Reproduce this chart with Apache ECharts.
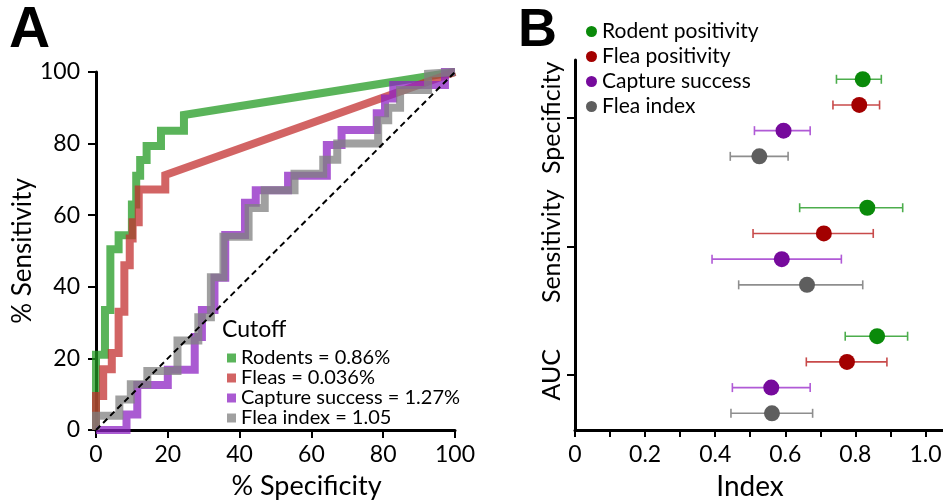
<!DOCTYPE html>
<html>
<head>
<meta charset="utf-8">
<script src="https://cdn.jsdelivr.net/npm/echarts@6/dist/echarts.min.js"></script>
<style>
  html, body { margin: 0; padding: 0; background: #fff; }
  #chart { width: 943px; height: 500px; }
</style>
</head>
<body>
<div id="chart"></div>
<script>
// panel A: ROC curves, [% specificity, % sensitivity]
const rodentsRoc = [[0,0],[0,21],[2.5,21],[2.5,33.5],[4,33.5],[4,50.5],[6.3,50.5],[6.3,54.4],[10,54.4],[10,63],[11.2,63],[11.2,71],[12.3,71],[12.3,75.4],[14.1,75.4],[14.1,79.3],[18.1,79.3],[18.1,83.6],[24.5,83.6],[24.5,88],[100,100]];
const fleasRoc = [[0,0],[0,9.5],[2,9.5],[2,17],[4.4,17],[4.4,21.5],[6.3,21.5],[6.3,33],[7.9,33],[7.9,46],[9.4,46],[9.4,53.5],[10.2,53.5],[10.2,58],[11.9,58],[11.9,67.2],[19.3,67.2],[19.3,71.2],[100,100]];
const captureRoc = [[0,0],[8.5,0],[8.5,4.3],[11.5,4.3],[11.5,12.6],[20,12.6],[20,16.8],[27.5,16.8],[27.5,26],[29.5,26],[29.5,33.5],[33,33.5],[33,42.5],[36,42.5],[36,54.5],[41.5,54.5],[41.5,63.5],[44.5,63.5],[44.5,67],[53.5,67],[53.5,71],[64.3,71],[64.3,79.6],[68.4,79.6],[68.4,83.8],[78.2,83.8],[78.2,88.5],[80.5,88.5],[80.5,92.6],[82.8,92.6],[82.8,96.4],[97.2,96.4],[97.2,100],[100,100]];
const fleaIndexRoc = [[0,0],[0,4],[6.5,4],[6.5,8.5],[9.7,8.5],[9.7,12.8],[14.3,12.8],[14.3,16.5],[22.7,16.5],[22.7,25],[28.5,25],[28.5,31.5],[32,31.5],[32,42.7],[35.5,42.7],[35.5,54],[42.5,54],[42.5,62],[47,62],[47,67],[55.3,67],[55.3,71.6],[63.3,71.6],[63.3,75.5],[67.2,75.5],[67.2,80],[78.6,80],[78.6,86.5],[81.4,86.5],[81.4,90],[84.7,90],[84.7,95],[92.5,95],[92.5,99.5],[100,100]];
const chanceLine = [[0,0],[100,100]];
const rocNames = ['Rodents = 0.86%', 'Fleas = 0.036%', 'Capture success = 1.27%', 'Flea index = 1.05'];
const rocTicks = [0, 20, 40, 60, 80, 100];

// panel B: index with confidence interval per group
const groups = ['Specificity', 'Sensitivity', 'AUC'];
const indexNames = ['Rodent positivity', 'Flea positivity', 'Capture success', 'Flea index'];
const rodentMean = [0.821, 0.834, 0.862];
const rodentLow = [0.746, 0.641, 0.771];
const rodentHigh = [0.874, 0.935, 0.949];
const fleaPosMean = [0.811, 0.710, 0.776];
const fleaPosLow = [0.736, 0.508, 0.660];
const fleaPosHigh = [0.869, 0.851, 0.890];
const captureMean = [0.595, 0.590, 0.560];
const captureLow = [0.512, 0.391, 0.449];
const captureHigh = [0.671, 0.760, 0.671];
const fleaIdxMean = [0.526, 0.662, 0.562];
const fleaIdxLow = [0.443, 0.467, 0.445];
const fleaIdxHigh = [0.608, 0.821, 0.678];
const indexLabels = [0, 0.2, 0.4, 0.6, 0.8, 1.0];
const indexTicks = [0, 0.1, 0.2, 0.3, 0.4, 0.5, 0.6, 0.7, 0.8, 0.9, 1.0];

const font = 'Lato, "Open Sans", sans-serif';
const rocColors = ['rgb(35,155,35)', 'rgb(195,48,48)', 'rgb(141,35,195)', 'rgb(128,128,128)'];
const dotColors = ['#0a8a0a', '#a30000', '#760a9c', '#5e5e5e'];
const barColors = ['#4cad4c', '#c84a4a', '#b05ad6', '#8e8e8e'];

const rocData = [rodentsRoc, fleasRoc, captureRoc, fleaIndexRoc];
const bData = [
  [rodentMean, rodentLow, rodentHigh],
  [fleaPosMean, fleaPosLow, fleaPosHigh],
  [captureMean, captureLow, captureHigh],
  [fleaIdxMean, fleaIdxLow, fleaIdxHigh],
];

const rowsPerGroup = 5;
const groupTickValues = groups.map((g, i) => i * rowsPerGroup + 1.5);

const chart = echarts.init(document.getElementById('chart'));

const series = [];
rocData.forEach((d, i) => {
  series.push({
    name: rocNames[i],
    type: 'line',
    xAxisIndex: 0,
    yAxisIndex: 0,
    data: d,
    symbol: 'none',
    lineStyle: { color: rocColors[i], width: 8, opacity: 0.75, join: 'miter' },
    itemStyle: { color: rocColors[i], opacity: 0.75 },
    z: 2 + i,
    silent: true,
  });
});
series.push({
  type: 'line',
  xAxisIndex: 0,
  yAxisIndex: 0,
  data: chanceLine,
  symbol: 'none',
  lineStyle: { color: '#000', width: 2, type: [6, 4] },
  z: 10,
  silent: true,
});

bData.forEach((d, i) => {
  const [mean, low, high] = d;
  series.push({
    name: indexNames[i],
    type: 'scatter',
    xAxisIndex: 1,
    yAxisIndex: 1,
    data: mean.map((m, g) => [m, g * rowsPerGroup + i]),
    symbolSize: 16,
    itemStyle: { color: dotColors[i], opacity: 1 },
    z: 5,
  });
  series.push({
    name: indexNames[i],
    type: 'custom',
    xAxisIndex: 1,
    yAxisIndex: 1,
    data: low.map((l, g) => [l, high[g], g * rowsPerGroup + i]),
    itemStyle: { color: dotColors[i] },
    z: 3,
    renderItem: function (params, api) {
      const row = api.value(2);
      const p1 = api.coord([api.value(0), row]);
      const p2 = api.coord([api.value(1), row]);
      const style = { stroke: barColors[i], lineWidth: 1.6 };
      const h = 4.5;
      return {
        type: 'group',
        children: [
          { type: 'line', shape: { x1: p1[0], y1: p1[1], x2: p2[0], y2: p2[1] }, style: style },
          { type: 'line', shape: { x1: p1[0], y1: p1[1] - h, x2: p1[0], y2: p1[1] + h }, style: style },
          { type: 'line', shape: { x1: p2[0], y1: p2[1] - h, x2: p2[0], y2: p2[1] + h }, style: style },
        ],
      };
    },
  });
});

const axisLine = { show: true, onZero: false, lineStyle: { color: '#000', width: 3 } };
const axisTick = { show: true, length: 8, lineStyle: { color: '#000', width: 2 } };

chart.setOption({
  animation: false,
  textStyle: { fontFamily: font },
  graphic: [
    { type: 'text', left: 9, top: 3, style: { text: 'A', font: 'bold 57px "Liberation Sans", Arial, sans-serif', fill: '#000' } },
    { type: 'text', left: 518, top: 4, style: { text: 'B', font: 'bold 54px "Liberation Sans", Arial, sans-serif', fill: '#000' } },
    { type: 'text', left: 222, top: 318, style: { text: 'Cutoff', font: '23px ' + font, fill: '#000' } },
  ],
  legend: [
    {
      data: rocNames,
      orient: 'vertical',
      left: 222,
      top: 343,
      icon: 'rect',
      itemWidth: 9,
      itemHeight: 9,
      itemGap: 0,
      selectedMode: false,
      textStyle: { fontSize: 20, color: '#000', fontFamily: font },
    },
    {
      data: indexNames.map((n, i) => ({ name: n, itemStyle: { color: dotColors[i] } })),
      orient: 'vertical',
      left: 581,
      top: 16,
      icon: 'circle',
      itemWidth: 11,
      itemHeight: 11,
      itemGap: 4,
      selectedMode: false,
      textStyle: { fontSize: 21, color: '#000', fontFamily: font },
    },
  ],
  grid: [
    { left: 96, right: 488, top: 72, bottom: 70, outerBoundsMode: 'none' },
    { left: 575, right: 0, top: 60, bottom: 70, outerBoundsMode: 'none' },
  ],
  xAxis: [
    {
      gridIndex: 0,
      type: 'value',
      min: 0,
      max: 100,
      interval: 20,
      name: '% Specificity',
      nameLocation: 'middle',
      nameGap: 43,
      nameTextStyle: { fontSize: 27, color: '#000', fontFamily: font, padding: [0, 0, 0, 62] },
      axisLine: axisLine,
      axisTick: axisTick,
      axisLabel: { fontSize: 23, color: '#000', margin: 13, customValues: rocTicks },
      splitLine: { show: false },
    },
    {
      gridIndex: 1,
      type: 'value',
      min: 0,
      max: 1.05,
      name: 'Index',
      nameLocation: 'middle',
      nameGap: 43,
      nameTextStyle: { fontSize: 28, color: '#000', fontFamily: font, padding: [0, 18, 0, 0] },
      axisLine: axisLine,
      axisTick: Object.assign({}, axisTick, { length: 7, customValues: indexTicks }),
      axisLabel: {
        fontSize: 23,
        color: '#000',
        margin: 13,
        customValues: indexLabels,
        formatter: (v) => (v === 0 ? '0' : v.toFixed(1)),
      },
      splitLine: { show: false },
    },
  ],
  yAxis: [
    {
      gridIndex: 0,
      type: 'value',
      min: 0,
      max: 100,
      interval: 20,
      name: '% Sensitivity',
      nameLocation: 'middle',
      nameGap: 56,
      nameTextStyle: { fontSize: 26, color: '#000', fontFamily: font },
      axisLine: axisLine,
      axisTick: axisTick,
      axisLabel: { fontSize: 23, color: '#000', margin: 16 },
      splitLine: { show: false },
    },
    {
      gridIndex: 1,
      type: 'value',
      inverse: true,
      min: -0.75,
      max: 13.65,
      axisLine: axisLine,
      axisTick: Object.assign({}, axisTick, { customValues: groupTickValues }),
      axisLabel: {
        fontSize: 25,
        color: '#000',
        margin: 11,
        rotate: 90,
        customValues: groupTickValues,
        formatter: (v) => groups[Math.round((v - 1.5) / rowsPerGroup)],
      },
      splitLine: { show: false },
    },
  ],
  series: series,
});
</script>
</body>
</html>
